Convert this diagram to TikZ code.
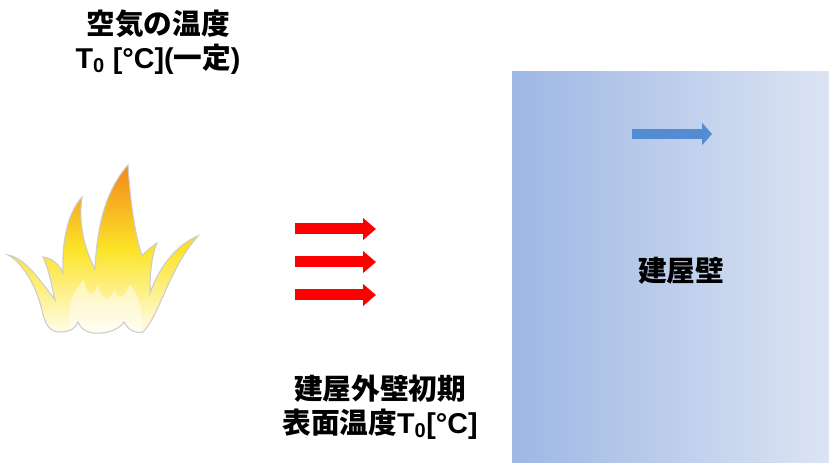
\documentclass[tikz,border=0pt]{standalone}
\usepackage{fontspec}
\setmainfont{Noto Sans CJK JP}
\newfontfamily\latin{Liberation Sans}
\usepackage{xcolor}
\definecolor{wallleft}{RGB}{158,183,228}
\definecolor{wallright}{RGB}{220,228,243}
\definecolor{flowblue}{RGB}{84,140,212}
\definecolor{heatred}{RGB}{255,0,0}
\definecolor{flameorange}{RGB}{243,135,28}
\definecolor{flameyellow}{RGB}{252,228,40}
\definecolor{flamebase}{RGB}{255,253,236}
\usetikzlibrary{arrows.meta}

\begin{document}
\begin{tikzpicture}[x=0.75pt, y=-0.75pt,
    heatarrow/.style={line width=8.25pt, heatred, -{Triangle[length=9.75pt, width=16pt]}},
    flowarrow/.style={line width=7.5pt, flowblue, -{Triangle[length=7.5pt, width=16.5pt]}},
    caption/.style={font=\fontsize{21.5}{25.5}\selectfont\bfseries, align=center, inner sep=0pt}]
  \useasboundingbox (0,0) rectangle (829,463);

  %--- building wall ---
  \shade[left color=wallleft, right color=wallright] (512,72) rectangle (829,463);
  \coordinate (flows) at (632,134);
  \coordinate (flowe) at (712,134);
  \draw[flowarrow] (flows) -- (flowe);
  \node[caption] (wall) at (681,271) {建屋壁};

  %--- flame ---
  \def\flamepath{(8,255)
    .. controls (22,262) and (36,285) .. (42,310)
    .. controls (45,325) and (50,332) .. (60,332)
    .. controls (70,332) and (76,328) .. (78,322)
    .. controls (82,332) and (92,334) .. (102,333)
    .. controls (112,332) and (120,328) .. (124,322)
    .. controls (128,330) and (136,334) .. (143,332)
    .. controls (160,315) and (168,270) .. (198,236)
    .. controls (175,245) and (158,270) .. (150,293)
    .. controls (150,270) and (152,255) .. (157,243)
    .. controls (150,248) and (145,252) .. (142,256)
    .. controls (135,235) and (130,200) .. (128,165)
    .. controls (106,190) and (97,225) .. (95,269)
    .. controls (85,250) and (78,225) .. (82,197)
    .. controls (66,215) and (62,245) .. (63,273)
    .. controls (60,265) and (52,258) .. (43,257)
    .. controls (50,272) and (52,288) .. (55,300)
    .. controls (40,280) and (25,258) .. (8,255) -- cycle}
  \shade[top color=flameorange, bottom color=flamebase, middle color=flameyellow] \flamepath;
  \begin{scope}
    \clip \flamepath;
    \fill[white, fill opacity=0.5] (70,334) .. controls (66,305) and (74,290) .. (84,279)
      .. controls (86,295) and (92,300) .. (98,284)
      .. controls (101,300) and (108,305) .. (115,289)
      .. controls (118,305) and (125,296) .. (130,284)
      .. controls (142,300) and (144,320) .. (140,334) -- cycle;
  \end{scope}
  \draw[black!20, line width=0.8pt] \flamepath;

  %--- heat flux into the wall ---
  \coordinate (h1s) at (295,229);
  \coordinate (h1e) at (376,229);
  \coordinate (h2s) at (295,262);
  \coordinate (h2e) at (376,262);
  \coordinate (h3s) at (295,295);
  \coordinate (h3e) at (376,295);
  \draw[heatarrow] (h1s) -- (h1e);
  \draw[heatarrow] (h2s) -- (h2e);
  \draw[heatarrow] (h3s) -- (h3e);

  %--- labels ---
  \node[caption] (airtemp) at (158,42) {空気の温度\\{\latin T\textsubscript{0} [°C](}一定{\latin )}};
  \node[caption] (surftemp) at (380,407) {建屋外壁初期\\表面温度{\latin T\textsubscript{0}[°C]}};
\end{tikzpicture}
\end{document}
